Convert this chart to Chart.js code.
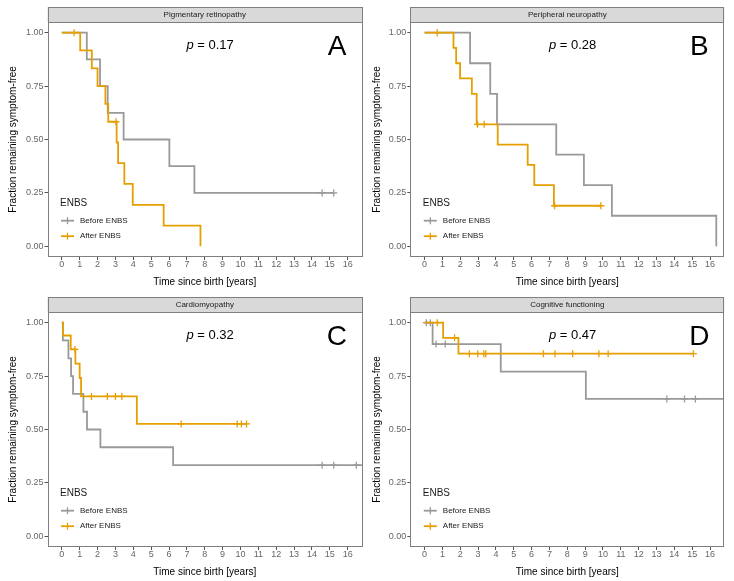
<!DOCTYPE html>
<html>
<head>
<meta charset="utf-8">
<script src="https://cdn.jsdelivr.net/npm/chart.js@4"></script>
<style>
  body { margin: 0; background: #fff; }
  #grid { position: relative; width: 734px; height: 581px; }
  #grid canvas { position: absolute; }
</style>
</head>
<body>
<div id="grid">
  <canvas id="panel-a" width="367" height="290" style="left:0;top:0"></canvas>
  <canvas id="panel-b" width="367" height="290" style="left:367px;top:0"></canvas>
  <canvas id="panel-c" width="367" height="290" style="left:0;top:290px"></canvas>
  <canvas id="panel-d" width="367" height="290" style="left:367px;top:290px"></canvas>
</div>
<script>
const X_TICKS = [0, 1, 2, 3, 4, 5, 6, 7, 8, 9, 10, 11, 12, 13, 14, 15, 16];
const Y_TICKS = [0, 0.25, 0.5, 0.75, 1];
const GROUPS = ["Before ENBS", "After ENBS"];
const GROUP_COLORS = ["#999999", "#E69F00"];

// A: pigmentary retinopathy
const A_BEFORE_TIME = [0, 1.4, 2.14, 2.57, 3.46, 6.02, 7.42, 15.22];
const A_BEFORE_SURV = [1, 0.875, 0.75, 0.625, 0.5, 0.375, 0.25, 0.25];
const A_BEFORE_CENSOR = [14.57, 15.22];
const A_AFTER_TIME = [0, 1.03, 1.68, 2.0, 2.44, 2.6, 3.07, 3.15, 3.5, 3.97, 5.7, 7.76];
const A_AFTER_SURV = [1, 0.917, 0.833, 0.75, 0.667, 0.583, 0.486, 0.389, 0.292, 0.194, 0.097, 0];
const A_AFTER_CENSOR = [0.69, 3.03];

// B: peripheral neuropathy
const B_BEFORE_TIME = [0, 2.55, 3.68, 4.06, 7.38, 8.93, 10.5, 16.35];
const B_BEFORE_SURV = [1, 0.857, 0.714, 0.571, 0.429, 0.286, 0.143, 0];
const B_BEFORE_CENSOR = [];
const B_AFTER_TIME = [0, 1.62, 1.77, 1.99, 2.65, 2.92, 4.1, 5.78, 6.15, 7.25, 9.88];
const B_AFTER_SURV = [1, 0.929, 0.857, 0.786, 0.714, 0.571, 0.476, 0.381, 0.286, 0.19, 0.19];
const B_AFTER_CENSOR = [0.71, 2.97, 3.34, 7.29, 9.88];

// C: cardiomyopathy
const C_BEFORE_TIME = [0, 0.06, 0.37, 0.52, 0.63, 1.21, 1.41, 2.16, 6.23, 16.8];
const C_BEFORE_SURV = [1, 0.917, 0.833, 0.75, 0.667, 0.583, 0.5, 0.417, 0.333, 0.333];
const C_BEFORE_CENSOR = [14.57, 15.22, 16.48];
const C_AFTER_TIME = [0, 0.07, 0.5, 0.76, 1.0, 1.08, 4.2, 10.34];
const C_AFTER_SURV = [1, 0.94, 0.875, 0.808, 0.741, 0.655, 0.526, 0.526];
const C_AFTER_CENSOR = [0.74, 1.66, 2.55, 3.0, 3.36, 6.68, 9.82, 10.05, 10.34];

// D: cognitive functioning
const D_BEFORE_TIME = [0, 0.45, 4.27, 9.04, 16.8];
const D_BEFORE_SURV = [1, 0.9, 0.771, 0.643, 0.643];
const D_BEFORE_CENSOR = [0.1, 0.32, 0.64, 1.16, 13.58, 14.57, 15.18];
const D_AFTER_TIME = [0, 1.04, 1.9, 15.07];
const D_AFTER_SURV = [1, 0.929, 0.855, 0.855];
const D_AFTER_CENSOR = [0.71, 1.68, 2.51, 2.98, 3.32, 3.43, 6.66, 7.31, 8.3, 9.77, 10.29, 15.07];

const FONT = "'Liberation Sans', Arial, sans-serif";
const FRAME = "#7f7f7f";
const STRIP_H = 15;

const PANELS = [
  { id: "panel-a", title: "Pigmentary retinopathy", pValue: "0.17", letter: "A", axisWidth: 47.5, padRight: 5, yTitlePad: 7,
    before: [A_BEFORE_TIME, A_BEFORE_SURV, A_BEFORE_CENSOR], after: [A_AFTER_TIME, A_AFTER_SURV, A_AFTER_CENSOR] },
  { id: "panel-b", title: "Peripheral neuropathy", pValue: "0.28", letter: "B", axisWidth: 43.3, padRight: 9.7, yTitlePad: 4,
    before: [B_BEFORE_TIME, B_BEFORE_SURV, B_BEFORE_CENSOR], after: [B_AFTER_TIME, B_AFTER_SURV, B_AFTER_CENSOR] },
  { id: "panel-c", title: "Cardiomyopathy", pValue: "0.32", letter: "C", axisWidth: 47.5, padRight: 5, yTitlePad: 7,
    before: [C_BEFORE_TIME, C_BEFORE_SURV, C_BEFORE_CENSOR], after: [C_AFTER_TIME, C_AFTER_SURV, C_AFTER_CENSOR] },
  { id: "panel-d", title: "Cognitive functioning", pValue: "0.47", letter: "D", axisWidth: 43.3, padRight: 9.7, yTitlePad: 4,
    before: [D_BEFORE_TIME, D_BEFORE_SURV, D_BEFORE_CENSOR], after: [D_AFTER_TIME, D_AFTER_SURV, D_AFTER_CENSOR] }
];

function survAt(times, surv, t) {
  let value = surv[0];
  for (let i = 0; i < times.length; i += 1) {
    if (times[i] <= t) value = surv[i];
  }
  return value;
}

function lineDataset(group, color) {
  const [times, surv] = group;
  return {
    type: "line",
    data: times.map((t, i) => ({ x: t, y: surv[i] })),
    borderColor: color,
    borderWidth: 1.8,
    stepped: true,
    pointRadius: 0,
    pointHoverRadius: 0,
    fill: false
  };
}

function censorDataset(group, color) {
  const [times, surv, censor] = group;
  return {
    type: "scatter",
    data: censor.map((t) => ({ x: t, y: survAt(times, surv, t) })),
    pointStyle: "cross",
    pointRadius: 3.5,
    pointHoverRadius: 3.5,
    pointBorderWidth: 1.3,
    borderColor: color,
    backgroundColor: color
  };
}

const panelDecor = {
  id: "panelDecor",
  beforeDraw(chart) {
    const { ctx, chartArea: a } = chart;
    ctx.save();
    ctx.fillStyle = "#d9d9d9";
    ctx.fillRect(a.left, a.top - STRIP_H, a.right - a.left, STRIP_H);
    ctx.strokeStyle = FRAME;
    ctx.lineWidth = 1;
    ctx.strokeRect(Math.round(a.left) + 0.5, a.top - STRIP_H + 0.5, Math.round(a.right - a.left) - 1, STRIP_H);
    ctx.restore();
  },
  afterDatasetsDraw(chart) {
    const { ctx, chartArea: a } = chart;
    ctx.save();
    ctx.strokeStyle = FRAME;
    ctx.lineWidth = 1;
    ctx.strokeRect(Math.round(a.left) + 0.5, Math.round(a.top) + 0.5, Math.round(a.right - a.left) - 1, Math.round(a.bottom - a.top) - 1);
    ctx.restore();
  },
  afterDraw(chart, args, opts) {
    const { ctx, chartArea: a, scales } = chart;
    ctx.save();
    ctx.fillStyle = "#000";
    ctx.textBaseline = "alphabetic";

    // p value, italic p
    const px = scales.x.getPixelForValue(8.3);
    const py = scales.y.getPixelForValue(0.925);
    ctx.font = `italic 13px ${FONT}`;
    const wP = ctx.measureText("p").width;
    ctx.font = `13px ${FONT}`;
    const rest = ` = ${opts.pValue}`;
    const wRest = ctx.measureText(rest).width;
    const start = px - (wP + wRest) / 2;
    ctx.textAlign = "left";
    ctx.font = `italic 13px ${FONT}`;
    ctx.fillText("p", start, py);
    ctx.font = `13px ${FONT}`;
    ctx.fillText(rest, start + wP, py);

    // panel letter
    ctx.font = `28px ${FONT}`;
    ctx.textAlign = "center";
    ctx.fillText(opts.letter, scales.x.getPixelForValue(15.4), scales.y.getPixelForValue(0.894));

    // legend
    const lx = a.left;
    ctx.textAlign = "left";
    ctx.textBaseline = "middle";
    ctx.fillStyle = "#1a1a1a";
    ctx.font = `10px ${FONT}`;
    ctx.fillText("ENBS", lx + 12.5, a.bottom - 54);
    ctx.font = `8px ${FONT}`;
    GROUPS.forEach((name, i) => {
      const ky = a.bottom - 36.3 + i * 15.5;
      ctx.strokeStyle = GROUP_COLORS[i];
      ctx.lineWidth = 1.8;
      ctx.beginPath();
      ctx.moveTo(lx + 13.5, ky);
      ctx.lineTo(lx + 26.5, ky);
      ctx.stroke();
      ctx.lineWidth = 1.3;
      ctx.beginPath();
      ctx.moveTo(lx + 20, ky - 3.5);
      ctx.lineTo(lx + 20, ky + 3.5);
      ctx.stroke();
      ctx.fillStyle = "#1a1a1a";
      ctx.fillText(name, lx + 32.5, ky);
    });
    ctx.restore();
  }
};

function renderPanel(p) {
  const datasets = [
    censorDataset(p.after, GROUP_COLORS[1]),
    lineDataset(p.after, GROUP_COLORS[1]),
    censorDataset(p.before, GROUP_COLORS[0]),
    lineDataset(p.before, GROUP_COLORS[0])
  ];
  const tickFont = { family: FONT, size: 9, lineHeight: 1 };
  const titleFont = { family: FONT, size: 10, lineHeight: 1.2 };

  new Chart(document.getElementById(p.id), {
    type: "line",
    data: { datasets },
    options: {
      responsive: false,
      animation: false,
      events: [],
      layout: { padding: { top: 7, right: p.padRight, left: 0, bottom: 0 } },
      plugins: {
        legend: { display: false },
        tooltip: { enabled: false },
        title: {
          display: true,
          text: p.title,
          fullSize: false,
          padding: 0,
          color: "#1a1a1a",
          font: { family: FONT, size: 8, weight: "normal", lineHeight: `${STRIP_H}px` }
        },
        panelDecor: { pValue: p.pValue, letter: p.letter }
      },
      scales: {
        x: {
          type: "linear",
          min: -0.8,
          max: 16.8,
          afterBuildTicks: (scale) => { scale.ticks = X_TICKS.map((v) => ({ value: v })); },
          afterFit: (scale) => { scale.height = 33; },
          grid: { drawOnChartArea: false, drawTicks: true, tickLength: 3, color: "#555" },
          border: { display: false },
          ticks: { padding: 0, color: "#666", font: tickFont, maxRotation: 0, autoSkip: false, callback: (v) => String(v) },
          title: { display: true, text: "Time since birth [years]", color: "#000", font: titleFont, padding: { top: 0, bottom: 2 } }
        },
        y: {
          type: "linear",
          min: -0.05,
          max: 1.05,
          afterBuildTicks: (scale) => { scale.ticks = Y_TICKS.map((v) => ({ value: v })); },
          afterFit: (scale) => { scale.width = p.axisWidth; },
          grid: { drawOnChartArea: false, drawTicks: true, tickLength: 3, color: "#555" },
          border: { display: false },
          ticks: { padding: 1, color: "#666", font: tickFont, callback: (v) => Number(v).toFixed(2) },
          title: { display: true, text: "Fraction remaining symptom-free", color: "#000", font: titleFont, padding: { top: p.yTitlePad, bottom: 0 } }
        }
      }
    },
    plugins: [panelDecor]
  });
}

PANELS.forEach(renderPanel);
</script>
</body>
</html>
